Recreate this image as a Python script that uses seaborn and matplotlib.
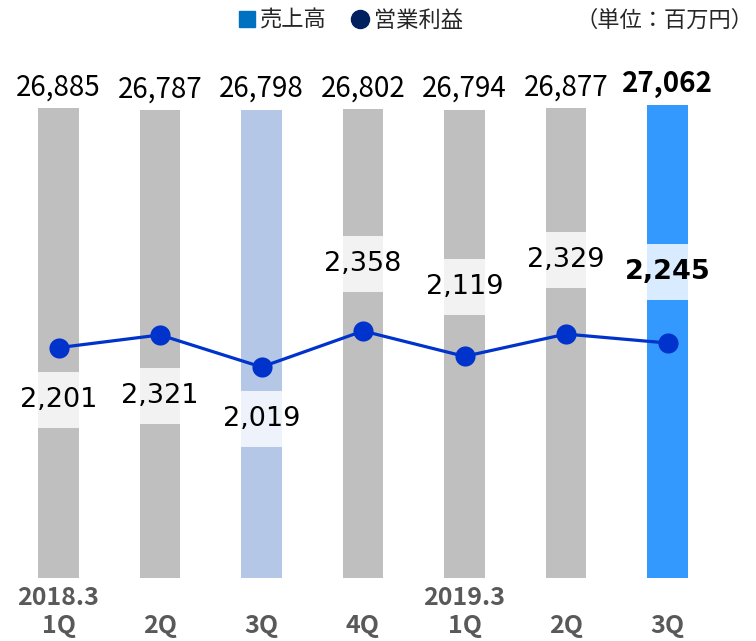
import numpy as np
import matplotlib
matplotlib.use("Agg")
import matplotlib.pyplot as plt
from matplotlib.patches import Rectangle
from matplotlib.lines import Line2D
import seaborn as sns

# ---- data ----
quarters = ["2018.3 1Q", "2018.3 2Q", "2018.3 3Q", "2018.3 4Q",
            "2019.3 1Q", "2019.3 2Q", "2019.3 3Q"]
tick_labels = ["2018.3\n1Q", "\n2Q", "\n3Q", "\n4Q", "2019.3\n1Q", "\n2Q", "\n3Q"]
sales = [26885, 26787, 26798, 26802, 26794, 26877, 27062]
op_income = [2201, 2321, 2019, 2358, 2119, 2329, 2245]

# ---- style ----
bar_colors = ["#BFBFBF", "#BFBFBF", "#B4C7E7", "#BFBFBF", "#BFBFBF", "#BFBFBF", "#3399FF"]
box_colors = ["#F2F2F2", "#F2F2F2", "#EEF2FA", "#F2F2F2", "#F2F2F2", "#F2F2F2", "#D9ECFF"]
# label box centre offset from the point, in pixels (positive = below)
label_offsets = [52, 61, 52, -67, -69, -74, -71]
line_color = "#0033CC"

sns.set_style("white")
plt.rcParams["font.family"] = ["Noto Sans CJK JP", "DejaVu Sans"]

fig = plt.figure(figsize=(7.56, 6.41), dpi=100)
ax = fig.add_axes([7.75 / 756, 1 - 578 / 641, 710.5 / 756, 518 / 641])

sns.barplot(x=quarters, y=sales, hue=quarters, palette=bar_colors, legend=False,
            width=0.4, saturation=1, ax=ax, edgecolor="none")
ax.set_ylim(0, 29630)
ax.set_xlim(-0.5, 6.5)

# sales labels on top of bars
for i, v in enumerate(sales):
    last = i == len(sales) - 1
    ax.annotate(f"{v:,}", (i, v), xytext=(0, 9), textcoords="offset points",
                ha="center", va="baseline", fontsize=20,
                fontweight="bold" if last else "normal", color="black")

ax.set_xticks(range(len(quarters)))
ax.set_xticklabels(tick_labels, color="#595959", fontweight="bold", fontsize=18,
                   linespacing=1.2)
ax.tick_params(axis="x", length=0, pad=6)
ax.set_yticks([])
ax.set_xlabel("")
ax.set_ylabel("")
for s in ax.spines.values():
    s.set_visible(False)

# operating income line
ax2 = ax.twinx()
y2_lo, y2_hi = 32, 4910
ax2.set_ylim(y2_lo, y2_hi)
sns.lineplot(x=np.arange(len(op_income)), y=op_income, ax=ax2, color=line_color,
             linewidth=2.3, marker="o", markersize=14.5, markeredgewidth=0,
             zorder=5)
ax2.set_xlim(-0.5, 6.5)
ax2.set_yticks([])
ax2.set_ylabel("")
for s in ax2.spines.values():
    s.set_visible(False)

units_per_px = (y2_hi - y2_lo) / 518.0
box_h = 56 * units_per_px
for i, (v, off) in enumerate(zip(op_income, label_offsets)):
    cy = v - off * units_per_px
    ax2.add_patch(Rectangle((i - 0.2, cy - box_h / 2), 0.4, box_h,
                            facecolor=box_colors[i], edgecolor="none", zorder=2))
    last = i == len(op_income) - 1
    ax2.text(i, cy, f"{v:,}", ha="center", va="center", fontsize=19.5,
             family="DejaVu Sans", fontweight="bold" if last else "normal",
             color="black", zorder=6)

# legend + unit
handles = [
    Line2D([], [], marker="s", linestyle="none", color="#0070C0", markersize=12),
    Line2D([], [], marker="o", linestyle="none", color="#002060", markersize=13),
]
fig.legend(handles, ["売上高", "営業利益"], loc="center", bbox_to_anchor=(0.462, 0.968),
           ncol=2, frameon=False, fontsize=16, handletextpad=0.1, columnspacing=1.0,
           handlelength=1.0)
fig.text(0.997, 0.968, "（単位：百万円）", ha="right", va="center", fontsize=16)

fig.savefig("out.png", dpi=100)
